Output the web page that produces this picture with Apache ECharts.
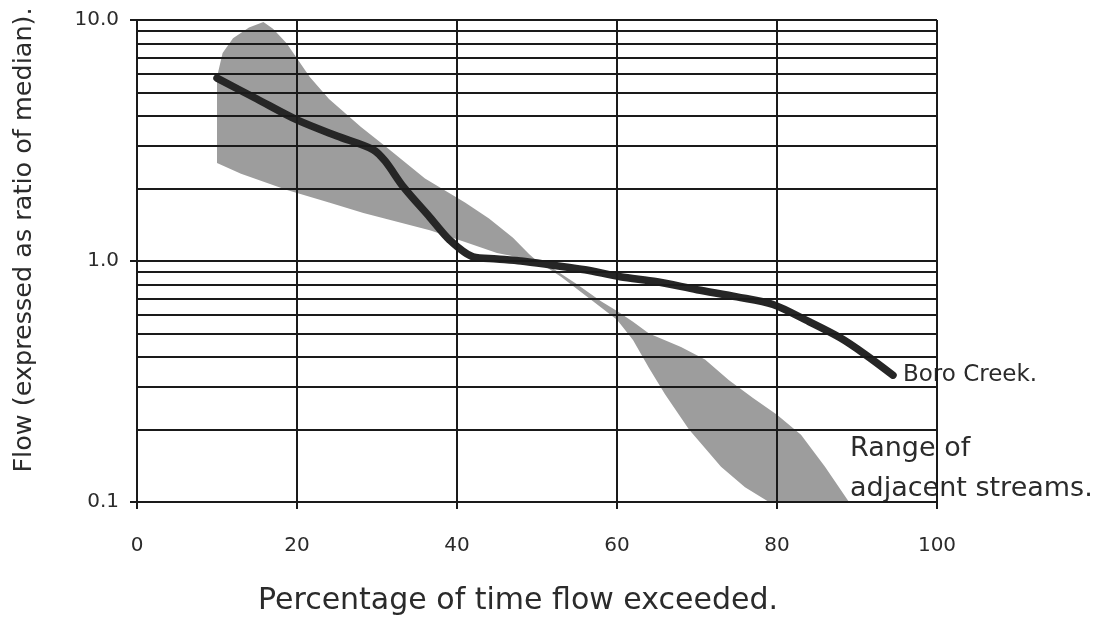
<!DOCTYPE html>
<html>
<head>
<meta charset="utf-8">
<script src="https://cdn.jsdelivr.net/npm/echarts@6/dist/echarts.min.js"></script>
<style>
  html, body { margin: 0; padding: 0; background: #fff; }
  #flowChart { width: 1116px; height: 617px; }
</style>
</head>
<body>
<div id="flowChart"></div>
<script>
// percentage of time flow exceeded vs flow / median
var xTicks = [0, 20, 40, 60, 80, 100];
var gridLevels = [0.1, 0.2, 0.3, 0.4, 0.5, 0.6, 0.7, 0.8, 0.9,
    1, 2, 3, 4, 5, 6, 7, 8, 9, 10];

// Boro Creek duration curve
var boroX = [10, 15, 20, 25, 29.5, 31, 33.3, 36.6, 39.1, 42, 45, 48, 52, 56, 60.4, 65, 70, 75, 79.5, 84, 87.9, 91, 94.5];
var boroY = [5.74, 4.7, 3.85, 3.3, 2.9, 2.6, 2.03, 1.52, 1.22, 1.04, 1.02, 1.0, 0.96, 0.92, 0.86, 0.82, 0.76, 0.71, 0.66, 0.56, 0.48, 0.41, 0.336];

// range of adjacent streams: upper edge (left to right)
var bandUpperX = [10, 10.7, 12, 14, 15.8, 17, 18.7, 21.6, 24, 28, 31, 36, 41, 44, 47, 49, 50,
    52, 55, 58, 60, 62, 64, 68, 71, 74, 77, 80, 83, 86, 89];
var bandUpperY = [5.8, 7.3, 8.4, 9.3, 9.8, 9.2, 8.0, 5.8, 4.7, 3.6, 3.0, 2.2, 1.75, 1.5, 1.25, 1.07, 1.0,
    0.93, 0.8, 0.68, 0.62, 0.56, 0.5, 0.44, 0.39, 0.32, 0.27, 0.23, 0.19, 0.14, 0.1];
// lower edge (left to right)
var bandLowerX = [10, 13, 18.75, 24, 28.3, 36.6, 41, 45, 50,
    53, 57, 60, 62, 64, 66, 69, 73, 76, 79];
var bandLowerY = [2.55, 2.3, 1.97, 1.75, 1.58, 1.34, 1.2, 1.08, 1.0,
    0.86, 0.68, 0.57, 0.47, 0.36, 0.28, 0.2, 0.14, 0.115, 0.1];

var textFont = 'DejaVu Sans';

var boroData = boroX.map(function (x, i) { return [x, boroY[i]]; });
var bandOutline = bandUpperX.map(function (x, i) { return [x, bandUpperY[i]]; });
for (var i = bandLowerX.length - 1; i >= 0; i--) {
    bandOutline.push([bandLowerX[i], bandLowerY[i]]);
}

var gridMarks = gridLevels.map(function (v) { return {yAxis: v}; })
    .concat(xTicks.map(function (v) { return {xAxis: v}; }));

var option = {
    animation: false,
    grid: {
        left: 137,
        width: 800,
        top: 20,
        height: 482,
        outerBoundsMode: 'none'
    },
    xAxis: {
        type: 'value',
        min: 0,
        max: 100,
        interval: 20,
        name: 'Percentage of time flow exceeded.',
        nameLocation: 'middle',
        nameGap: 84,
        nameTextStyle: {
            color: '#2b2b2b',
            fontSize: 30,
            fontFamily: textFont,
            padding: [0, 38, 0, 0]
        },
        axisLine: {lineStyle: {color: '#1a1a1a', width: 2}},
        axisTick: {length: 7, lineStyle: {color: '#1a1a1a', width: 2}},
        axisLabel: {color: '#2b2b2b', fontSize: 20, margin: 34, fontFamily: textFont},
        splitLine: {show: false}
    },
    yAxis: {
        type: 'log',
        logBase: 10,
        min: 0.1,
        max: 10,
        name: 'Flow (expressed as ratio of median).',
        nameLocation: 'middle',
        nameGap: 100,
        nameTextStyle: {
            color: '#2b2b2b',
            fontSize: 25.5,
            fontFamily: textFont,
            padding: [0, 0, 0, 42]
        },
        axisLine: {lineStyle: {color: '#1a1a1a', width: 2}},
        axisTick: {length: 7, lineStyle: {color: '#1a1a1a', width: 2}},
        axisLabel: {
            color: '#2b2b2b',
            fontSize: 20,
            margin: 18,
            fontFamily: textFont,
            formatter: function (v) { return v.toFixed(1); }
        },
        splitLine: {show: false},
        minorTick: {show: false}
    },
    series: [
        {
            name: 'Range of adjacent streams',
            type: 'custom',
            z: 1,
            data: bandOutline,
            encode: {x: 0, y: 1},
            renderItem: function (params, api) {
                if (params.dataIndex !== 0) {
                    return;
                }
                var pts = bandOutline.map(function (p) { return api.coord(p); });
                return {
                    type: 'polygon',
                    shape: {points: pts},
                    style: {fill: '#9d9d9d', stroke: null}
                };
            }
        },
        {
            name: 'grid',
            type: 'line',
            z: 2,
            data: [],
            silent: true,
            markLine: {
                silent: true,
                symbol: 'none',
                label: {show: false},
                lineStyle: {color: '#1a1a1a', width: 2, type: 'solid'},
                data: gridMarks
            }
        },
        {
            name: 'Boro Creek',
            type: 'line',
            z: 3,
            data: boroData,
            showSymbol: false,
            smooth: 0.3,
            lineStyle: {color: '#262626', width: 7.5, cap: 'round', join: 'round'},
            endLabel: {
                show: true,
                formatter: 'Boro Creek.',
                distance: 10,
                color: '#2b2b2b',
                fontSize: 23,
                fontFamily: textFont
            }
        }
    ],
    graphic: [
        {
            type: 'text',
            left: 850,
            top: 429,
            style: {
                text: 'Range of\nadjacent streams.',
                fill: '#2b2b2b',
                fontSize: 27,
                lineHeight: 40,
                fontFamily: textFont
            }
        }
    ]
};

var chart = echarts.init(document.getElementById('flowChart'));
chart.setOption(option);
</script>
</body>
</html>
